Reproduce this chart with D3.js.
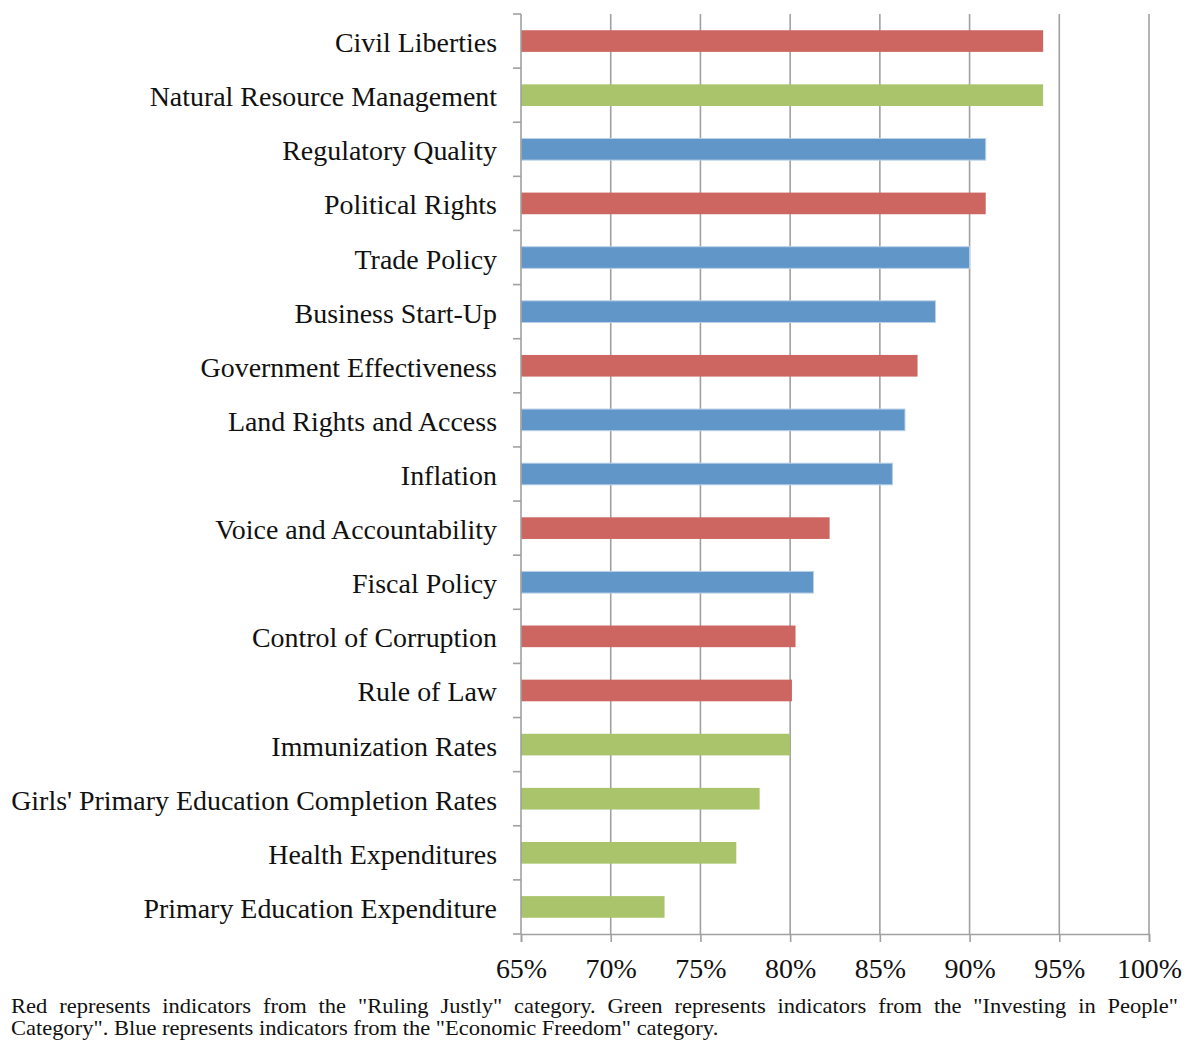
<!DOCTYPE html>
<html>
<head>
<meta charset="utf-8">
<script src="https://cdn.jsdelivr.net/npm/d3@7"></script>
<style>
  html, body { margin: 0; padding: 0; background: #fff; }
  svg { display: block; }
  text { font-family: "Liberation Serif", "Times New Roman", serif; fill: #111; }
</style>
</head>
<body>
<svg id="chart" width="1192" height="1040"></svg>
<script>
// MCA indicator scores, sorted from highest to lowest
const indicators = [
  "Civil Liberties",
  "Natural Resource Management",
  "Regulatory Quality",
  "Political Rights",
  "Trade Policy",
  "Business Start-Up",
  "Government Effectiveness",
  "Land Rights and Access",
  "Inflation",
  "Voice and Accountability",
  "Fiscal Policy",
  "Control of Corruption",
  "Rule of Law",
  "Immunization Rates",
  "Girls' Primary Education Completion Rates",
  "Health Expenditures",
  "Primary Education Expenditure"
];
const scores = [94.1, 94.1, 90.9, 90.9, 90.0, 88.1, 87.1, 86.4, 85.7, 82.2, 81.3, 80.3, 80.1, 80.0, 78.3, 77.0, 73.0];
// R = Ruling Justly, P = Investing in People, E = Economic Freedom
const groups = ["R", "P", "E", "R", "E", "E", "R", "E", "E", "R", "E", "R", "R", "P", "P", "P", "P"];
const tickValues = [65, 70, 75, 80, 85, 90, 95, 100];
const noteLines = [
  "Red represents indicators from the \"Ruling Justly\" category. Green represents indicators from the \"Investing in People\"",
  "Category\". Blue represents indicators from the \"Economic Freedom\" category."
];

const groupColor = { R: "#CD6660", P: "#AAC46C", E: "#6196C9" };
const gridColor = "#A0A0A0";

const svg = d3.select("#chart");
const plot = { left: 521, right: 1149, top: 14, bottom: 934 };

const x = d3.scaleLinear().domain([65, 100]).range([plot.left, plot.right]);
const y = d3.scaleBand().domain(indicators).range([plot.top, plot.bottom]).paddingInner(0.6).paddingOuter(0.3);
const band = (plot.bottom - plot.top) / indicators.length;

// vertical gridlines
svg.append("g").selectAll("line").data(tickValues.slice(1)).join("line")
  .attr("x1", d => x(d)).attr("x2", d => x(d))
  .attr("y1", plot.top).attr("y2", plot.bottom)
  .attr("stroke", gridColor).attr("stroke-width", 1.6);

// bars
svg.append("g").selectAll("rect").data(indicators).join("rect")
  .attr("x", x(65))
  .attr("y", d => y(d))
  .attr("width", (d, i) => x(scores[i]) - x(65))
  .attr("height", y.bandwidth())
  .attr("fill", (d, i) => groupColor[groups[i]])
  .attr("stroke", (d, i) => groups[i] === "E" ? "#B9D0E8" : "none")
  .attr("stroke-width", 1);

// value axis along the bottom
const xAxis = d3.axisBottom(x).tickValues(tickValues).tickSize(8).tickPadding(14)
  .tickFormat(d => d + "%");
const gx = svg.append("g").attr("transform", `translate(0,${plot.bottom})`).call(xAxis);
gx.select(".domain").attr("stroke", gridColor).attr("stroke-width", 1.6);
gx.selectAll(".tick line").attr("stroke", gridColor).attr("stroke-width", 1.6);
gx.selectAll(".tick text").attr("font-size", 26).attr("dy", "0.8em")
  .style("font-family", "'Liberation Serif', serif").attr("fill", "#111");

// category axis on the left: boundary ticks between categories
const edges = d3.range(indicators.length + 1).map(i => plot.top + i * band);
svg.append("line").attr("x1", plot.left).attr("x2", plot.left)
  .attr("y1", plot.top).attr("y2", plot.bottom)
  .attr("stroke", gridColor).attr("stroke-width", 1.6);
svg.append("g").selectAll("line").data(edges).join("line")
  .attr("x1", plot.left - 8).attr("x2", plot.left)
  .attr("y1", d => d).attr("y2", d => d)
  .attr("stroke", gridColor).attr("stroke-width", 1.6);

// category labels, sized so the longest fits the left margin
const labelSize = 26;
const labels = svg.append("g").selectAll("text").data(indicators).join("text")
  .attr("x", 497)
  .attr("y", d => y(d) + y.bandwidth() / 2 + 11)
  .attr("text-anchor", "end")
  .attr("font-size", labelSize)
  .text(d => d);
const widest = d3.max(labels.nodes(), n => n.getComputedTextLength());
const fitted = labelSize * 486 / widest;
labels.attr("font-size", fitted);
gx.selectAll(".tick text").attr("font-size", fitted);

// footnote: slightly widened type, first line justified to the full width
const noteLeft = 11, noteRight = 1178, lastLineRight = 719;
const note = svg.append("g").attr("font-size", 20.5);
const noteTexts = noteLines.map((line, i) =>
  note.append("text").attr("x", 0).attr("y", 1013 + i * 22).text(line));
const sx = (lastLineRight - noteLeft) / noteTexts[1].node().getComputedTextLength();
note.attr("transform", `translate(${noteLeft},0) scale(${sx},1)`);
{
  const t = noteTexts[0];
  const spaces = noteLines[0].split(" ").length - 1;
  const extra = ((noteRight - noteLeft) / sx - t.node().getComputedTextLength()) / spaces;
  t.attr("word-spacing", extra);
}
</script>
</body>
</html>
